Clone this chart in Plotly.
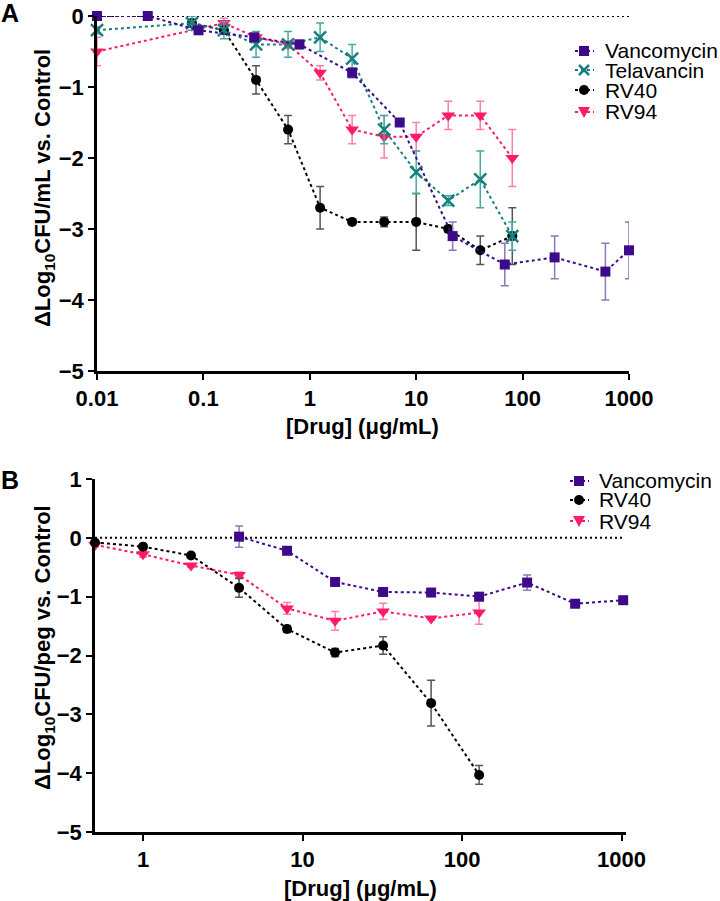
import numpy as np
import plotly.graph_objects as go

# ---------------- data: panel A ----------------
vanc_a_x = [0.01, 0.03, 0.09, 0.3, 0.8, 2.5, 7, 22, 68, 200, 600, 1000]
vanc_a_y = [0, 0, -0.2, -0.3, -0.4, -0.8, -1.5, -3.1, -3.5, -3.4, -3.6, -3.3]
vanc_a_e = [0, 0, 0.06, 0.05, 0.06, 0.07, 0.05, 0.2, 0.3, 0.3, 0.4, 0.4]

tela_a_x = [0.01, 0.078, 0.156, 0.3125, 0.625, 1.25, 2.5, 5, 10, 20, 40, 80]
tela_a_y = [-0.2, -0.1, -0.2, -0.4, -0.4, -0.3, -0.6, -1.6, -2.2, -2.6, -2.3, -3.1]
tela_a_e = [0.05, 0.1, 0.12, 0.18, 0.18, 0.2, 0.2, 0.2, 0.3, 0.07, 0.4, 0.2]

rv40_a_x = [0.078, 0.156, 0.3125, 0.625, 1.25, 2.5, 5, 10, 20, 40, 80]
rv40_a_y = [-0.1, -0.2, -0.9, -1.6, -2.7, -2.9, -2.9, -2.9, -3.0, -3.3, -3.1]
rv40_a_e = [0.05, 0.05, 0.2, 0.2, 0.3, 0.03, 0.07, 0.4, 0.05, 0.2, 0.4]

rv94_a_x = [0.01, 0.156, 0.3125, 0.625, 1.25, 2.5, 5, 10, 20, 40, 80]
rv94_a_y = [-0.5, -0.1, -0.3, -0.4, -0.8, -1.6, -1.7, -1.7, -1.4, -1.4, -2.0]
rv94_a_e = [0.2, 0.07, 0.05, 0.05, 0.1, 0.2, 0.3, 0.2, 0.2, 0.2, 0.4]

# ---------------- data: panel B ----------------
vanc_b_x = [4, 8, 16, 32, 64, 128, 256, 512, 1024]
vanc_b_y = [0.02, -0.22, -0.75, -0.92, -0.93, -1.0, -0.76, -1.12, -1.06]
vanc_b_e = [0.18, 0.03, 0.03, 0.03, 0.03, 0.03, 0.13, 0.03, 0.03]

rv40_b_x = [0.5, 1, 2, 4, 8, 16, 32, 64, 128]
rv40_b_y = [-0.08, -0.15, -0.3, -0.85, -1.55, -1.95, -1.83, -2.81, -4.03]
rv40_b_e = [0.03, 0.03, 0.03, 0.16, 0.06, 0.07, 0.15, 0.39, 0.16]

rv94_b_x = [0.5, 1, 2, 4, 8, 16, 32, 64, 128]
rv94_b_y = [-0.12, -0.28, -0.47, -0.63, -1.2, -1.41, -1.25, -1.37, -1.27]
rv94_b_e = [0.03, 0.05, 0.03, 0.05, 0.1, 0.16, 0.14, 0.03, 0.2]

x_ticks_a = [0.01, 0.1, 1, 10, 100, 1000]
x_labels_a = ["0.01", "0.1", "1", "10", "100", "1000"]
x_ticks_b = [1, 10, 100, 1000]
x_labels_b = ["1", "10", "100", "1000"]
y_ticks_a = [0, -1, -2, -3, -4, -5]
y_ticks_b = [1, 0, -1, -2, -3, -4, -5]

# ---------------- styles ----------------
W, H = 720, 901
FONT = "Liberation Sans, Arial, sans-serif"
C_VANC, C_VANC_E = "#3d0b8a", "#8d78b9"
C_TELA, C_TELA_E = "#17807e", "#45aaa7"
C_RV40, C_RV40_E = "#000000", "#555555"
C_RV94, C_RV94_E = "#ff1a6c", "#ff7fa8"

def px(x):
    return x / W

def py(y):
    return 1 - y / H

fig = go.Figure()

def add_series(x, y, e, color, ecolor, symbol, size, xa, ya, lw=0):
    marker = dict(symbol=symbol, size=size, color=color)
    marker["line"] = dict(width=lw, color=color) if lw else dict(width=0)
    fig.add_trace(go.Scatter(
        x=x, y=y, mode="lines+markers", xaxis=xa, yaxis=ya,
        line=dict(color=color, width=2, dash="dot"),
        marker=marker,
        error_y=dict(type="data", array=e, color=ecolor, thickness=1.5, width=4),
        cliponaxis=False, showlegend=False,
    ))

# panel A (bottom to top drawing order)
add_series(rv94_a_x, rv94_a_y, rv94_a_e, C_RV94, C_RV94_E, "triangle-down", 12, "x", "y")
add_series(rv40_a_x, rv40_a_y, rv40_a_e, C_RV40, C_RV40_E, "circle", 10, "x", "y")
add_series(tela_a_x, tela_a_y, tela_a_e, C_TELA, C_TELA_E, "x-thin", 12, "x", "y", lw=2.5)
add_series(vanc_a_x, vanc_a_y, vanc_a_e, C_VANC, C_VANC_E, "square", 10, "x", "y")

# panel B
add_series(rv94_b_x, rv94_b_y, rv94_b_e, C_RV94, C_RV94_E, "triangle-down", 12, "x2", "y2")
add_series(rv40_b_x, rv40_b_y, rv40_b_e, C_RV40, C_RV40_E, "circle", 10, "x2", "y2")
add_series(vanc_b_x, vanc_b_y, vanc_b_e, C_VANC, C_VANC_E, "square", 10, "x2", "y2")

tickfont = dict(family=FONT, size=22, color="black", weight=700)

def log_minor(lo_exp, hi_exp, start=None, stop=None):
    vals = []
    for d in range(lo_exp, hi_exp):
        for k in range(2, 10):
            v = k * 10.0 ** d
            if (start is None or v >= start) and (stop is None or v <= stop):
                vals.append(v)
    return vals

def y_minor(lo, hi):
    vals = []
    for m in range(lo, hi):
        for k in range(2, 10):
            vals.append(float(m + np.log10(k)))
    return vals

def ylab(v):
    return ("\u2212" + str(abs(v))) if v < 0 else str(v)

common = dict(showline=True, linewidth=2.5, linecolor="black",
              ticks="outside", ticklen=6, tickwidth=2, tickcolor="black",
              showgrid=False, zeroline=False, tickfont=tickfont, tickmode="array",
              automargin=False)
minor_common = dict(ticks="outside", ticklen=4, tickwidth=2, tickcolor="black",
                    showgrid=False, zeroline=False, showline=False,
                    showticklabels=False, tickmode="array", automargin=False)

XA_DOM = [px(97), px(629)]
YA_DOM = [py(371), py(16)]
XB_DOM = [px(95), px(626)]
YB_DOM = [py(832), py(479)]
XA_RNG = [-2, 3]
XB_RNG = [float(np.log10(0.5)), 3.028]

fig.update_layout(
    width=W, height=H, paper_bgcolor="white", plot_bgcolor="white",
    margin=dict(l=0, r=0, t=0, b=0, autoexpand=False), showlegend=False,
    xaxis=dict(common, type="log", domain=XA_DOM, range=XA_RNG,
               tickvals=x_ticks_a, ticktext=x_labels_a, anchor="y"),
    yaxis=dict(common, domain=YA_DOM, range=[-5, 0], anchor="x",
               tickvals=y_ticks_a, ticktext=[ylab(v) for v in y_ticks_a]),
    xaxis2=dict(common, type="log", domain=XB_DOM, range=XB_RNG,
                tickvals=x_ticks_b, ticktext=x_labels_b, anchor="y2"),
    yaxis2=dict(common, domain=YB_DOM, range=[-5, 1], anchor="x2",
                tickvals=y_ticks_b, ticktext=[ylab(v) for v in y_ticks_b]),
    # overlay axes used only to draw the minor tick marks
    xaxis3=dict(minor_common, type="log", domain=XA_DOM, range=XA_RNG,
                overlaying="x", anchor="y", side="bottom",
                tickvals=log_minor(-2, 3)),
    yaxis3=dict(minor_common, domain=YA_DOM, range=[-5, 0],
                overlaying="y", anchor="x", side="left",
                tickvals=y_minor(-5, 0)),
    xaxis4=dict(minor_common, type="log", domain=XB_DOM, range=XB_RNG,
                overlaying="x2", anchor="y2", side="bottom",
                tickvals=log_minor(-1, 3, start=0.6, stop=1000)),
    yaxis4=dict(minor_common, domain=YB_DOM, range=[-5, 1],
                overlaying="y2", anchor="x2", side="left",
                tickvals=y_minor(-5, 1)),
)

# zero reference lines
fig.add_shape(type="line", xref="x", yref="y", x0=0.01, x1=1000, y0=0, y1=0,
              line=dict(color="black", width=2, dash="2px,3px"), layer="below")
fig.add_shape(type="line", xref="x2", yref="y2", x0=0.5, x1=1050, y0=0, y1=0,
              line=dict(color="black", width=2, dash="2px,3px"), layer="below")

ann_font = dict(family=FONT, size=22, color="black", weight=700)

def ann(text, x, y, **kw):
    d = dict(text=text, x=px(x), y=py(y), xref="paper", yref="paper",
             showarrow=False, font=ann_font, xanchor="center", yanchor="middle")
    d.update(kw)
    fig.add_annotation(**d)

ann("ΔLog<sub>10</sub>CFU/mL vs. Control", 44, 188, textangle=-90)
ann("ΔLog<sub>10</sub>CFU/peg vs. Control", 44, 648, textangle=-90)
ann("[Drug] (μg/mL)", 362, 427)
ann("[Drug] (μg/mL)", 360, 888)
ann("A", 10, 13, font=dict(family=FONT, size=25, color="black", weight=700))
ann("B", 10, 480, font=dict(family=FONT, size=25, color="black", weight=700))

# manual legends (decorations)
leg_font = dict(family=FONT, size=21, color="black")

def legend_entry(cx, cy, tx, label, color, kind):
    fig.add_shape(type="line", xref="paper", yref="paper",
                  x0=px(cx - 9), x1=px(cx + 10), y0=py(cy), y1=py(cy),
                  line=dict(color=color, width=2, dash="dot"))
    r = 5
    if kind == "square":
        fig.add_shape(type="rect", xref="paper", yref="paper",
                      x0=px(cx - r), x1=px(cx + r), y0=py(cy + r), y1=py(cy - r),
                      fillcolor=color, line=dict(width=0))
    elif kind == "circle":
        fig.add_shape(type="circle", xref="paper", yref="paper",
                      x0=px(cx - r), x1=px(cx + r), y0=py(cy + r), y1=py(cy - r),
                      fillcolor=color, line=dict(width=0))
    elif kind == "tri":
        path = f"M {px(cx-6)} {py(cy-5)} L {px(cx+6)} {py(cy-5)} L {px(cx)} {py(cy+6)} Z"
        fig.add_shape(type="path", xref="paper", yref="paper", path=path,
                      fillcolor=color, line=dict(width=0))
    elif kind == "x":
        for (a, b, c, d) in [(-5, -5, 5, 5), (-5, 5, 5, -5)]:
            fig.add_shape(type="line", xref="paper", yref="paper",
                          x0=px(cx + a), y0=py(cy + b), x1=px(cx + c), y1=py(cy + d),
                          line=dict(color=color, width=2.5))
    fig.add_annotation(text=label, x=px(tx), y=py(cy), xref="paper", yref="paper",
                       showarrow=False, font=leg_font, xanchor="left", yanchor="middle")

legend_entry(584, 51, 603, "Vancomycin", C_VANC, "square")
legend_entry(584, 70, 603, "Telavancin", C_TELA, "x")
legend_entry(584, 90, 603, "RV40", C_RV40, "circle")
legend_entry(584, 112, 603, "RV94", C_RV94, "tri")

legend_entry(579, 481, 597, "Vancomycin", C_VANC, "square")
legend_entry(579, 500, 597, "RV40", C_RV40, "circle")
legend_entry(579, 521, 597, "RV94", C_RV94, "tri")

# remove the browser's default page margin so the figure fills the window
fig.write_html("out.html", config={"displayModeBar": False},
               post_script="document.body.style.margin='0px';")
